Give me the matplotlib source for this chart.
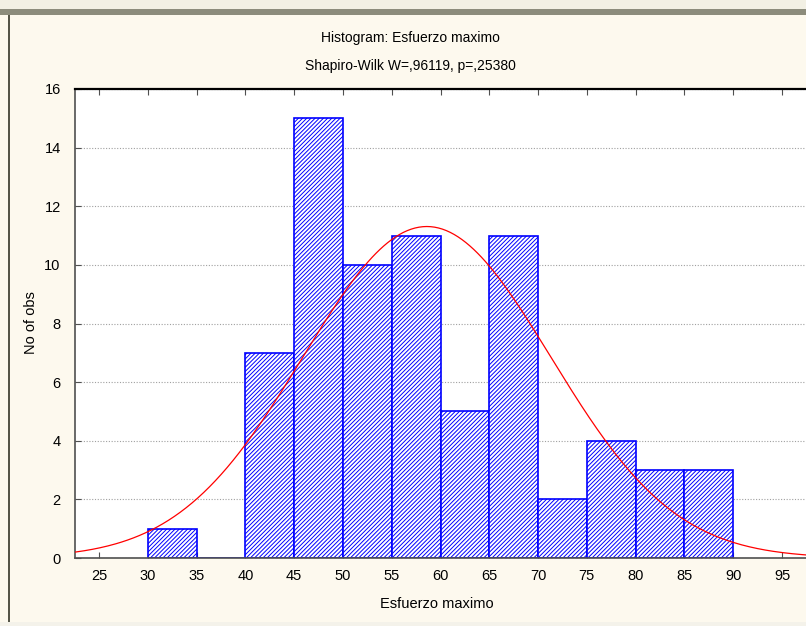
import matplotlib
matplotlib.use('Agg')
import matplotlib.pyplot as plt
import numpy as np
from matplotlib.patches import Rectangle

# histogram data (bin edges 30..90, width 5)
bin_left = [30, 35, 40, 45, 50, 55, 60, 65, 70, 75, 80, 85]
counts = [1, 0, 7, 15, 10, 11, 5, 11, 2, 4, 3, 3]
bin_width = 5
# fitted normal curve parameters
fit_mean = 58.6
fit_sd = 12.7
xticks = [25, 30, 35, 40, 45, 50, 55, 60, 65, 70, 75, 80, 85, 90, 95]
yticks = [0, 2, 4, 6, 8, 10, 12, 14, 16]

plt.rcParams['font.family'] = ['Liberation Sans', 'DejaVu Sans']
plt.rcParams['hatch.linewidth'] = 0.7
plt.rcParams['hatch.color'] = '#0000ff'

fig = plt.figure(figsize=(8.06, 6.26), dpi=100)
fig.patch.set_facecolor('#fdf9ee')

# window frame bits
fig.patches.append(Rectangle((0, 1 - 9/626), 1, 9/626, transform=fig.transFigure,
                             facecolor='#f2f0e4', edgecolor='none'))
fig.patches.append(Rectangle((0, 1 - 15/626), 1, 6/626, transform=fig.transFigure,
                             facecolor='#8c8c7c', edgecolor='none'))
fig.patches.append(Rectangle((8/806, 4/626), 1.5/806, 1 - 19/626, transform=fig.transFigure,
                             facecolor='#555548', edgecolor='none'))
fig.patches.append(Rectangle((0, 0), 1, 4/626, transform=fig.transFigure,
                             facecolor='#f4f2ea', edgecolor='none'))

ax = fig.add_axes([74.6/806, 68/626, 780.6/806, 469/626])
ax.set_facecolor('white')

ax.bar(bin_left, counts, width=bin_width, align='edge', facecolor='white',
       edgecolor='#0000ff', hatch='////////', linewidth=1.2, zorder=2)

xs = np.linspace(22.5, 102.5, 400)
n = sum(counts)
ys = n * bin_width / (fit_sd * np.sqrt(2 * np.pi)) * np.exp(-0.5 * ((xs - fit_mean) / fit_sd) ** 2)
ax.plot(xs, ys, color='#ff0000', linewidth=0.9, zorder=3)

ax.set_xlim(22.5, 102.5)
ax.set_ylim(0, 16)
ax.set_xticks(xticks)
ax.set_yticks(yticks)
ax.yaxis.grid(True, linestyle=(0, (1, 1.5)), color='#a0a0a0', linewidth=0.8, zorder=0)
ax.set_axisbelow(True)

for s in ['left', 'bottom']:
    ax.spines[s].set_color('#505050')
    ax.spines[s].set_linewidth(1.2)
ax.spines['top'].set_color('black')
ax.spines['top'].set_linewidth(1.6)
ax.spines['right'].set_color('black')

ax.tick_params(axis='both', direction='in', length=4, color='#505050',
               labelsize=10.5, top=True, right=True, pad=8)
ax.tick_params(axis='y', pad=10)

ax.set_xlabel('Esfuerzo maximo', fontsize=10.5)
ax.set_ylabel('No of obs', fontsize=10.5)
ax.xaxis.set_label_coords((437 - 74.6) / 780.6, -0.083)
ax.yaxis.set_label_coords((38 - 74.6) / 780.6, (558 - 323) / 469)

fig.text(410/806, 1 - 38/626, 'Histogram: Esfuerzo maximo', ha='center', va='center', fontsize=10)
fig.text(410/806, 1 - 66/626, 'Shapiro-Wilk W=,96119, p=,25380', ha='center', va='center', fontsize=10)

fig.savefig('out.png', dpi=100, facecolor=fig.get_facecolor())
